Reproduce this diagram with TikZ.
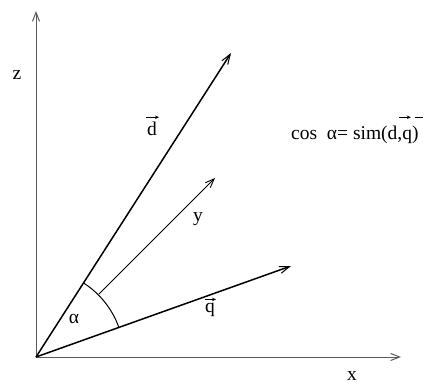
\documentclass[tikz,border=0pt]{standalone}
\usepackage{fontspec}
\setmainfont{Liberation Serif}
\usetikzlibrary{arrows.meta}
\begin{document}
\begin{tikzpicture}[x=1pt,y=-1pt,
  axis/.style={draw=black!65,line width=1pt,-{Straight Barb[length=9pt,width=7pt]}},
  vecthick/.style={draw=black,line width=1.5pt,-{Straight Barb[length=10pt,width=7pt,line width=1pt]}},
  vecthin/.style={draw=black,line width=0.9pt,-{Straight Barb[length=9pt,width=7pt]}},
  lab/.style={inner sep=0pt,anchor=base,font=\fontsize{19.5}{22}\selectfont},
  overarrow/.style={draw=black,line width=1.2pt,-{Stealth[length=4pt,width=3.5pt]}},
  overbar/.style={draw=black,line width=1pt}]
\useasboundingbox (0,0) rectangle (427,385);
\coordinate (O) at (36,357);
\coordinate (Z) at (36,11);
\coordinate (X) at (401,357);
\coordinate (D) at (231,53);
\coordinate (Q) at (291,266);
\coordinate (Y) at (215,178);
\draw[axis] (O) -- (Z);
\draw[axis] (O) -- (X);
\draw[vecthick] (O) -- (D);
\draw[vecthick] (O) -- (Q);
\draw[black,line width=1pt] ([shift={(-19.5:88)}]O) coordinate (A1) arc[start angle=-19.5,end angle=-57.4,radius=88];
\coordinate (Y0) at ([shift={(-45:89)}]O);
\draw[vecthin] (Y0) -- (Y);
\node[lab] (zl) at (17,79) {z};
\node[lab] (dl) at (152,135) {d};
\draw[overarrow] ([xshift=-6pt,yshift=4pt]dl.north) -- ([xshift=7pt,yshift=4pt]dl.north);
\node[lab] (yl) at (198,221) {y};
\node[lab] (al) at (74,323.5) {α};
\node[lab] (ql) at (210,312) {q};
\draw[overarrow] ([xshift=-5pt,yshift=3pt]ql.north) -- ([xshift=6pt,yshift=3pt]ql.north);
\node[lab] (xl) at (352,380) {x};
\node[lab,anchor=base west] (eq) at (291,139) {cos\ \ α= sim(d,q)};
\draw[overarrow] ([xshift=-20pt,yshift=8pt]eq.north east) -- ([xshift=-8pt,yshift=8pt]eq.north east);
\draw[overbar] ([xshift=-4pt,yshift=8pt]eq.north east) -- ([xshift=4pt,yshift=8pt]eq.north east);
\end{tikzpicture}
\end{document}
